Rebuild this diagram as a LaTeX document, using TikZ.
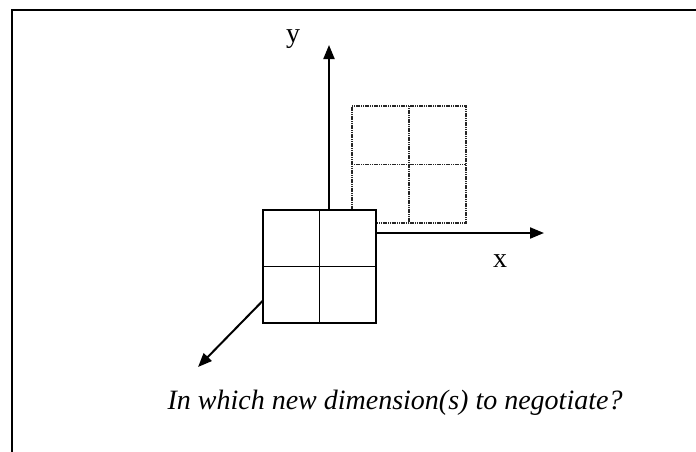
\documentclass[tikz,border=0pt]{standalone}
\usepackage{fontspec}
\setmainfont{Liberation Serif}
\usetikzlibrary{arrows.meta}
\begin{document}
\begin{tikzpicture}[x=1pt,y=-1pt,
  axis/.style={line width=2pt,-{Triangle[length=14pt,width=11pt]}},
  frontbox/.style={draw,line width=2.2pt,fill=white,minimum width=113pt,minimum height=113pt,inner sep=0pt,outer sep=0pt},
  backbox/.style={draw=black!85,line width=1.7pt,dash pattern=on 1.2pt off 0.6pt,minimum width=114pt,minimum height=117pt,inner sep=0pt,outer sep=0pt},
  grid line/.style={line width=1.8pt},
  back grid/.style={draw=black!85,line width=1.7pt,dash pattern=on 1.2pt off 0.6pt},
  lbl/.style={font=\fontsize{28}{32}\selectfont},
  frame/.style={line width=2.6pt}]
\useasboundingbox (0,0) rectangle (696,451);
% frame (top and left edges visible)
\coordinate (fTR) at (700,10);
\coordinate (fTL) at (12,10);
\coordinate (fBL) at (12,455);
\draw[frame] (fTR) -- (fTL) -- (fBL);
% axes from hidden origin
\coordinate (O) at (329,233);
\coordinate (ytip) at (329,45);
\coordinate (xtip) at (544,233);
\coordinate (ztip) at (198,367);
\draw[axis] (O) -- (ytip);
\draw[axis] (O) -- (xtip);
\draw[axis] (O) -- (ztip);
% back (dotted) box
\node[backbox] (back) at (409,164.5) {};
\draw[back grid] (back.north) -- (back.south);
\draw[back grid] (back.west) -- (back.east);
% front box
\node[frontbox] (front) at (319.5,266.5) {};
\draw[grid line] (front.north) -- (front.south);
\draw[grid line] (front.west) -- (front.east);
% labels
\node[lbl,anchor=base] (ylbl) at (293,42) {y};
\node[lbl,anchor=base] (xlbl) at (500,267) {x};
\node[lbl,anchor=base,font=\fontsize{28}{32}\selectfont\itshape] (cap) at (395,409) {In which new dimension(s) to negotiate?};
\end{tikzpicture}
\end{document}
